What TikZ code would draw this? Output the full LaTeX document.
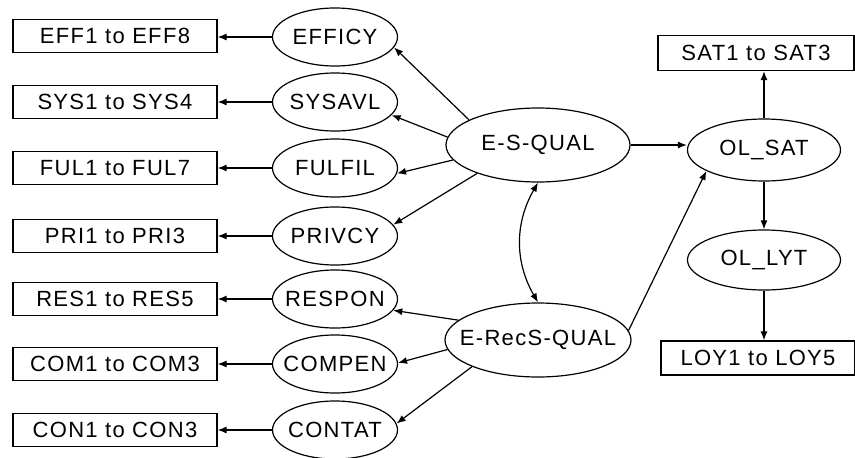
\documentclass[tikz,border=0pt]{standalone}
\usepackage{fontspec}
\setmainfont{Liberation Sans}[LetterSpace=6]
\usetikzlibrary{shapes.geometric,arrows.meta}

\begin{document}
\begin{tikzpicture}[x=1pt,y=-1pt,line width=1.2pt,>={Latex[length=9pt,width=7pt]},
    item/.style={draw,rectangle,inner sep=0pt,minimum width=204pt,minimum height=33pt,font=\fontsize{22}{26}\selectfont},
    factor/.style={draw,ellipse,inner sep=0pt,inner xsep=-30pt,minimum width=125pt,minimum height=58pt,font=\fontsize{22}{26}\selectfont}]
        \useasboundingbox (0,0) rectangle (855,458);
        % first order factors and their items
        \node[item] (eff) at (115,36) {EFF1 to EFF8};
        \node[item] (sys) at (115,102) {SYS1 to SYS4};
        \node[item] (ful) at (115,168) {FUL1 to FUL7};
        \node[item] (pri) at (115,236) {PRI1 to PRI3};
        \node[item] (res) at (115,299) {RES1 to RES5};
        \node[item] (com) at (115,364) {COM1 to COM3};
        \node[item] (con) at (115,430) {CON1 to CON3};
        \node[factor] (efficy) at (335,37) {EFFICY};
        \node[factor] (sysavl) at (335,102) {SYSAVL};
        \node[factor] (fulfil) at (335,168) {FULFIL};
        \node[factor] (privcy) at (335,236) {PRIVCY};
        \node[factor] (respon) at (335,299) {RESPON};
        \node[factor] (compen) at (335,364) {COMPEN};
        \node[factor] (contat) at (335,430) {CONTAT};
        \draw[->] (efficy) -- (efficy -| eff.east);
        \draw[->] (sysavl) -- (sysavl -| sys.east);
        \draw[->] (fulfil) -- (fulfil -| ful.east);
        \draw[->] (privcy) -- (privcy -| pri.east);
        \draw[->] (respon) -- (respon -| res.east);
        \draw[->] (compen) -- (compen -| com.east);
        \draw[->] (contat) -- (contat -| con.east);
        % second order factors
        \node[factor,minimum width=184pt,minimum height=74pt] (esq) at (538,145) {E-S-QUAL};
        \node[factor,minimum width=186pt,minimum height=74pt] (erq) at (538,340) {E-RecS-QUAL};
        \draw[->] (esq.160) -- (efficy.-10);
        \draw[->] (esq.175) -- (sysavl.-13);
        \draw[->] (esq.190) -- (fulfil.-5);
        \draw[->] (esq.205) -- (privcy.11);
        \draw[->] (erq.166) -- (respon.-11);
        \draw[->] (erq.186) -- (compen.1);
        \draw[->] (erq.202) -- (contat.6);
        \draw[<->] (esq.south) to[bend right=30] (erq.north);
        % outcomes
        \node[factor,minimum width=153pt,minimum height=62pt] (olsat) at (764,150) {OL\_SAT};
        \node[factor,minimum width=153pt,minimum height=60pt] (ollyt) at (764,260) {OL\_LYT};
        \node[item,minimum width=196pt,minimum height=35pt] (sat) at (756,53) {SAT1 to SAT3};
        \node[item,minimum width=194pt,minimum height=34pt] (loy) at (758,358) {LOY1 to LOY5};
        \draw[->] (esq.east) -- (esq.east -| olsat.west);
        \draw[->] (erq.6) -- (olsat.200);
        \draw[->] (olsat.north) -- (olsat.north |- sat.south);
        \draw[->] (olsat.south) -- (ollyt.north);
        \draw[->] (ollyt.south) -- (ollyt.south |- loy.north);

    \end{tikzpicture}
\end{document}
